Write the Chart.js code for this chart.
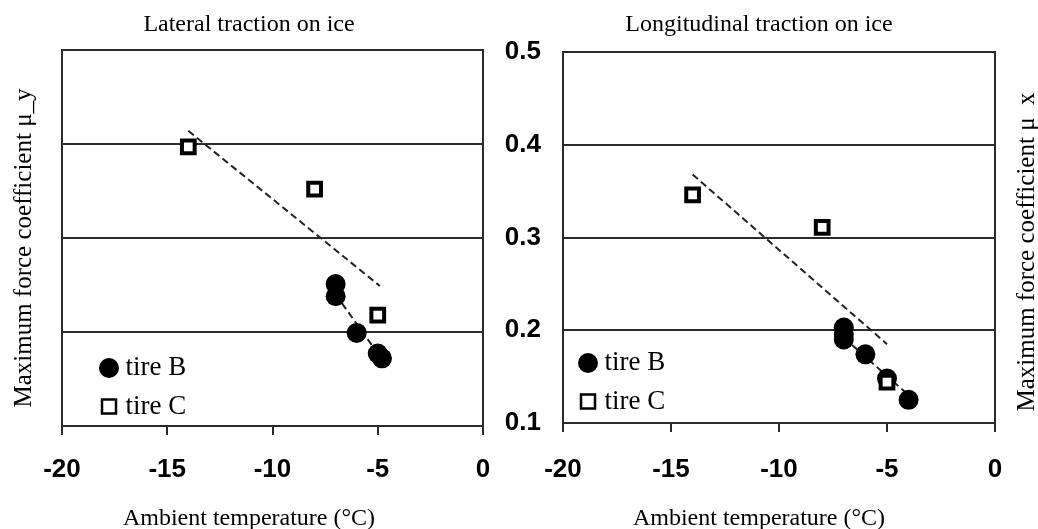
<!DOCTYPE html>
<html lang="en">
<head>
<meta charset="utf-8" />
<title>Traction on ice</title>
<script src="https://cdn.jsdelivr.net/npm/chart.js@4.4.1/dist/chart.umd.min.js"></script>
<style>
  html, body { margin: 0; padding: 0; background: #fff; }
  .panel { position: absolute; top: 0; }
  #lateral { left: 0; }
  #longitudinal { left: 480px; }
</style>
</head>
<body>
<canvas id="lateral" class="panel" width="498" height="529"></canvas>
<canvas id="longitudinal" class="panel" width="558" height="529"></canvas>

<script>
// axis ticks
const tempTicks = [-20, -15, -10, -5, 0];
const coefTicks = [0.1, 0.2, 0.3, 0.4, 0.5];

// lateral traction (mu_y)
const latTempB = [-7, -7, -6, -5, -4.8];
const latMuB = [0.251, 0.238, 0.199, 0.177, 0.172];
const latTempC = [-14, -8, -5];
const latMuC = [0.397, 0.352, 0.218];
const latFitTempC = [-14, -4.9];
const latFitMuC = [0.414, 0.249];
const latFitTempB = [-7, -4.8];
const latFitMuB = [0.24, 0.171];

// longitudinal traction (mu_x)
const lonTempB = [-7, -7, -7, -6, -5, -4];
const lonMuB = [0.203, 0.196, 0.19, 0.174, 0.148, 0.125];
const lonTempC = [-14, -8, -5];
const lonMuC = [0.346, 0.311, 0.144];
const lonFitTempC = [-14, -5];
const lonFitMuC = [0.368, 0.185];
const lonFitTempB = [-7, -4];
const lonFitMuB = [0.192, 0.13];

const lineColor = "#2b2b2b";
const serif = "'Liberation Serif', 'Times New Roman', serif";
const sans = "'Liberation Sans', Arial, sans-serif";

const toPoints = (xs, ys) => xs.map((x, i) => ({ x, y: ys[i] }));

// rotated axis title (reads bottom to top on both sides)
const sideTitle = {
    id: "sideTitle",
    afterDraw(chart, args, opts) {
        const { ctx } = chart;
        ctx.save();
        ctx.translate(opts.x, opts.y);
        ctx.rotate(-Math.PI / 2);
        ctx.font = opts.font;
        ctx.fillStyle = "#000";
        ctx.textAlign = "center";
        ctx.textBaseline = "middle";
        ctx.fillText(opts.text, 0, 0);
        ctx.restore();
    },
};

// legend drawn inside the plot, bottom left
const insideLegend = {
    id: "insideLegend",
    afterDraw(chart, args, opts) {
        const { ctx, chartArea } = chart;
        const items = chart.data.datasets.filter((ds) => ds.inLegend);
        ctx.save();
        ctx.font = opts.font;
        ctx.textBaseline = "middle";
        items.forEach((ds, i) => {
            const cx = chartArea.left + opts.x;
            const cy = chartArea.bottom - opts.y + i * opts.spacing;
            ctx.fillStyle = "#000";
            ctx.strokeStyle = "#000";
            if (ds.pointStyle === "circle") {
                ctx.beginPath();
                ctx.arc(cx, cy, 10, 0, Math.PI * 2);
                ctx.fill();
            } else {
                ctx.lineWidth = 2.5;
                ctx.fillStyle = "#fff";
                ctx.fillRect(cx - 7, cy - 7, 14, 14);
                ctx.strokeRect(cx - 7, cy - 7, 14, 14);
                ctx.fillStyle = "#000";
            }
            ctx.fillText(ds.label, chartArea.left + opts.textX, cy);
        });
        ctx.restore();
    },
};

function makeDatasets(tB, mB, tC, mC, fTC, fMC, fTB, fMB) {
    const fit = (xs, ys) => ({
        data: toPoints(xs, ys),
        showLine: true,
        borderColor: "#222",
        borderWidth: 2,
        borderDash: [7, 4],
        pointRadius: 0,
        pointHoverRadius: 0,
        order: 3,
    });
    return [
        {
            label: "tire B",
            inLegend: true,
            data: toPoints(tB, mB),
            pointStyle: "circle",
            pointRadius: 10,
            pointBackgroundColor: "#000",
            pointBorderColor: "#000",
            pointBorderWidth: 0,
            order: 2,
        },
        {
            label: "tire C",
            inLegend: true,
            data: toPoints(tC, mC),
            pointStyle: "rect",
            pointRadius: 9,
            pointBackgroundColor: "#fff",
            pointBorderColor: "#000",
            pointBorderWidth: 4,
            order: 1,
        },
        fit(fTC, fMC),
        fit(fTB, fMB),
    ];
}

function makePanel(canvasId, p) {
    const tickFont = { family: sans, size: 26, weight: "bold" };
    return new Chart(document.getElementById(canvasId), {
        type: "scatter",
        data: { datasets: p.datasets },
        plugins: [sideTitle, insideLegend],
        options: {
            responsive: false,
            animation: false,
            layout: { padding: 0 },
            plugins: {
                legend: { display: false },
                tooltip: { enabled: false },
                title: {
                    display: true,
                    text: p.title,
                    color: "#000",
                    font: { family: serif, size: 24, weight: "normal" },
                    padding: { top: 10.5, bottom: p.titleGap },
                },
                subtitle: {
                    display: true,
                    position: "bottom",
                    text: "Ambient temperature (°C)",
                    color: "#000",
                    font: { family: serif, size: 24, weight: "normal", lineHeight: "21px" },
                    padding: { top: p.subGap, bottom: 0 },
                },
                sideTitle: { text: p.yTitle, x: p.yTitleX, y: p.yTitleY, font: "25px " + serif },
                insideLegend: {
                    font: "27px " + serif,
                    x: p.legendX,
                    textX: p.legendX + 16.5,
                    y: p.legendY,
                    spacing: 38.5,
                },
            },
            scales: {
                x: {
                    type: "linear",
                    min: -20,
                    max: 0,
                    afterBuildTicks: (axis) => {
                        axis.ticks = tempTicks.map((value) => ({ value }));
                    },
                    grid: {
                        drawOnChartArea: false,
                        drawTicks: true,
                        tickLength: 9,
                        color: lineColor,
                        lineWidth: 2,
                    },
                    border: { display: true, color: lineColor, width: 2 },
                    // tall line box pushes the labels down without a big padding
                    ticks: {
                        font: { ...tickFont, lineHeight: p.xLineHeight },
                        color: "#000",
                        padding: 3,
                        maxRotation: 0,
                    },
                },
                y: {
                    type: "linear",
                    min: 0.1,
                    max: 0.5,
                    afterBuildTicks: (axis) => {
                        axis.ticks = coefTicks.map((value) => ({ value }));
                    },
                    grid: { color: lineColor, lineWidth: 2, drawTicks: false },
                    border: { display: true, color: lineColor, width: 2 },
                    ticks: {
                        display: p.showYTicks,
                        font: tickFont,
                        color: "#000",
                        padding: 22,
                        callback: (v) => v.toFixed(1),
                    },
                    afterFit: (axis) => {
                        axis.width = p.leftWidth;
                    },
                },
                y2: {
                    type: "linear",
                    position: "right",
                    min: 0,
                    max: 1,
                    grid: { display: false },
                    ticks: { display: false },
                    border: { display: true, color: lineColor, width: 2 },
                    afterFit: (axis) => {
                        axis.width = p.rightWidth;
                    },
                },
            },
        },
    });
}

makePanel("lateral", {
    title: "Lateral traction on ice",
    yTitle: "Maximum force coefficient μ_y",
    yTitleX: 24,
    yTitleY: 248,
    leftWidth: 62,
    rightWidth: 15,
    showYTicks: false,
    titleGap: 10.7,
    xLineHeight: "64px",
    subGap: 3,
    legendX: 47,
    legendY: 58,
    datasets: makeDatasets(latTempB, latMuB, latTempC, latMuC, latFitTempC, latFitMuC, latFitTempB, latFitMuB),
});

makePanel("longitudinal", {
    title: "Longitudinal traction on ice",
    yTitle: "Maximum force coefficient μ  x",
    yTitleX: 547,
    yTitleY: 252,
    leftWidth: 83,
    rightWidth: 43,
    showYTicks: true,
    titleGap: 12.7,
    xLineHeight: "70px",
    subGap: 0,
    legendX: 25,
    legendY: 60,
    datasets: makeDatasets(lonTempB, lonMuB, lonTempC, lonMuC, lonFitTempC, lonFitMuC, lonFitTempB, lonFitMuB),
});
</script>
</body>
</html>
